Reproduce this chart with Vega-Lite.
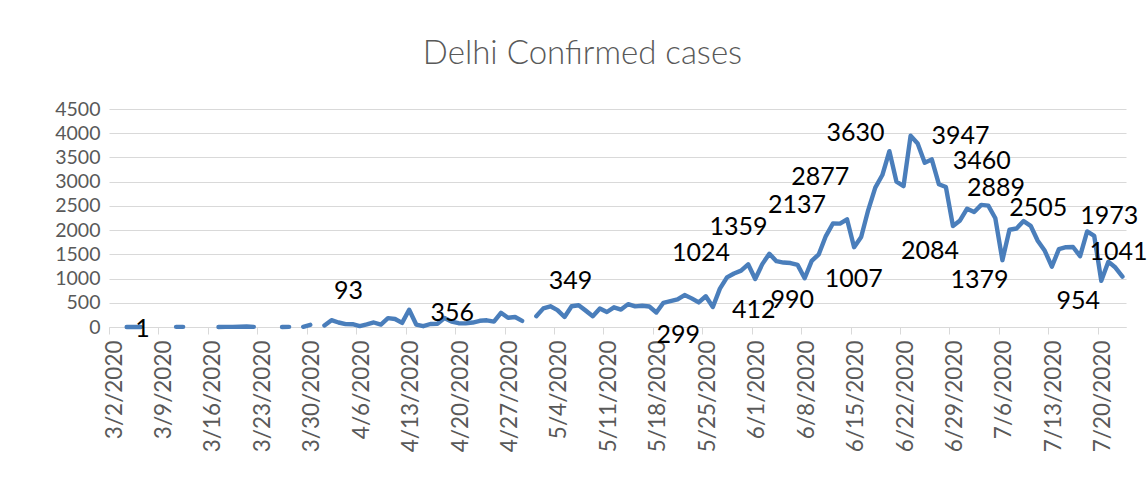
{
  "$schema": "https://vega.github.io/schema/vega-lite/v6.json",
  "width": 1017,
  "height": 218,
  "autosize": {"type": "none"},
  "padding": {"left": 109, "top": 109, "right": 21, "bottom": 152},
  "background": "white",
  "config": {"view": {"stroke": null}, "font": "Lato"},
  "title": {"text": "Delhi Confirmed cases", "font": "Lato", "fontSize": 33, "fontWeight": 300, "color": "#595959", "anchor": "middle", "dx": -35, "dy": 41, "offset": 43, "baseline": "alphabetic"},
  "datasets": {
    "cases": [
      {"date": "2020-03-02", "cases": null}, {"date": "2020-03-03", "cases": null}, {"date": "2020-03-04", "cases": 1}, {"date": "2020-03-05", "cases": 1}, {"date": "2020-03-06", "cases": 1}, {"date": "2020-03-07", "cases": null}, {"date": "2020-03-08", "cases": null}, {"date": "2020-03-09", "cases": null}, {"date": "2020-03-10", "cases": null}, {"date": "2020-03-11", "cases": 3}, {"date": "2020-03-12", "cases": 3}, {"date": "2020-03-13", "cases": null}, {"date": "2020-03-14", "cases": null}, {"date": "2020-03-15", "cases": null}, {"date": "2020-03-16", "cases": null}, {"date": "2020-03-17", "cases": 1}, {"date": "2020-03-18", "cases": 2}, {"date": "2020-03-19", "cases": 2}, {"date": "2020-03-20", "cases": 5}, {"date": "2020-03-21", "cases": 9}, {"date": "2020-03-22", "cases": 3}, {"date": "2020-03-23", "cases": null}, {"date": "2020-03-24", "cases": null}, {"date": "2020-03-25", "cases": null}, {"date": "2020-03-26", "cases": 1}, {"date": "2020-03-27", "cases": 3}, {"date": "2020-03-28", "cases": null}, {"date": "2020-03-29", "cases": 5}, {"date": "2020-03-30", "cases": 45}, {"date": "2020-03-31", "cases": null},
      {"date": "2020-04-01", "cases": 32}, {"date": "2020-04-02", "cases": 141}, {"date": "2020-04-03", "cases": 93}, {"date": "2020-04-04", "cases": 59}, {"date": "2020-04-05", "cases": 58}, {"date": "2020-04-06", "cases": 20}, {"date": "2020-04-07", "cases": 53}, {"date": "2020-04-08", "cases": 93}, {"date": "2020-04-09", "cases": 51}, {"date": "2020-04-10", "cases": 183}, {"date": "2020-04-11", "cases": 166}, {"date": "2020-04-12", "cases": 85}, {"date": "2020-04-13", "cases": 356}, {"date": "2020-04-14", "cases": 51}, {"date": "2020-04-15", "cases": 17}, {"date": "2020-04-16", "cases": 62}, {"date": "2020-04-17", "cases": 67}, {"date": "2020-04-18", "cases": 186}, {"date": "2020-04-19", "cases": 110}, {"date": "2020-04-20", "cases": 78}, {"date": "2020-04-21", "cases": 75}, {"date": "2020-04-22", "cases": 92}, {"date": "2020-04-23", "cases": 128}, {"date": "2020-04-24", "cases": 138}, {"date": "2020-04-25", "cases": 111}, {"date": "2020-04-26", "cases": 293}, {"date": "2020-04-27", "cases": 190}, {"date": "2020-04-28", "cases": 206}, {"date": "2020-04-29", "cases": 125}, {"date": "2020-04-30", "cases": null},
      {"date": "2020-05-01", "cases": 223}, {"date": "2020-05-02", "cases": 384}, {"date": "2020-05-03", "cases": 427}, {"date": "2020-05-04", "cases": 349}, {"date": "2020-05-05", "cases": 206}, {"date": "2020-05-06", "cases": 428}, {"date": "2020-05-07", "cases": 448}, {"date": "2020-05-08", "cases": 338}, {"date": "2020-05-09", "cases": 224}, {"date": "2020-05-10", "cases": 381}, {"date": "2020-05-11", "cases": 310}, {"date": "2020-05-12", "cases": 406}, {"date": "2020-05-13", "cases": 359}, {"date": "2020-05-14", "cases": 472}, {"date": "2020-05-15", "cases": 425}, {"date": "2020-05-16", "cases": 438}, {"date": "2020-05-17", "cases": 422}, {"date": "2020-05-18", "cases": 299}, {"date": "2020-05-19", "cases": 500}, {"date": "2020-05-20", "cases": 534}, {"date": "2020-05-21", "cases": 571}, {"date": "2020-05-22", "cases": 660}, {"date": "2020-05-23", "cases": 591}, {"date": "2020-05-24", "cases": 508}, {"date": "2020-05-25", "cases": 635}, {"date": "2020-05-26", "cases": 412}, {"date": "2020-05-27", "cases": 792}, {"date": "2020-05-28", "cases": 1024}, {"date": "2020-05-29", "cases": 1105}, {"date": "2020-05-30", "cases": 1163}, {"date": "2020-05-31", "cases": 1295},
      {"date": "2020-06-01", "cases": 990}, {"date": "2020-06-02", "cases": 1298}, {"date": "2020-06-03", "cases": 1513}, {"date": "2020-06-04", "cases": 1359}, {"date": "2020-06-05", "cases": 1330}, {"date": "2020-06-06", "cases": 1320}, {"date": "2020-06-07", "cases": 1282}, {"date": "2020-06-08", "cases": 1007}, {"date": "2020-06-09", "cases": 1366}, {"date": "2020-06-10", "cases": 1501}, {"date": "2020-06-11", "cases": 1877}, {"date": "2020-06-12", "cases": 2137}, {"date": "2020-06-13", "cases": 2134}, {"date": "2020-06-14", "cases": 2224}, {"date": "2020-06-15", "cases": 1647}, {"date": "2020-06-16", "cases": 1859}, {"date": "2020-06-17", "cases": 2414}, {"date": "2020-06-18", "cases": 2877}, {"date": "2020-06-19", "cases": 3137}, {"date": "2020-06-20", "cases": 3630}, {"date": "2020-06-21", "cases": 3000}, {"date": "2020-06-22", "cases": 2909}, {"date": "2020-06-23", "cases": 3947}, {"date": "2020-06-24", "cases": 3788}, {"date": "2020-06-25", "cases": 3390}, {"date": "2020-06-26", "cases": 3460}, {"date": "2020-06-27", "cases": 2948}, {"date": "2020-06-28", "cases": 2889}, {"date": "2020-06-29", "cases": 2084}, {"date": "2020-06-30", "cases": 2199},
      {"date": "2020-07-01", "cases": 2442}, {"date": "2020-07-02", "cases": 2373}, {"date": "2020-07-03", "cases": 2520}, {"date": "2020-07-04", "cases": 2505}, {"date": "2020-07-05", "cases": 2244}, {"date": "2020-07-06", "cases": 1379}, {"date": "2020-07-07", "cases": 2008}, {"date": "2020-07-08", "cases": 2033}, {"date": "2020-07-09", "cases": 2187}, {"date": "2020-07-10", "cases": 2089}, {"date": "2020-07-11", "cases": 1781}, {"date": "2020-07-12", "cases": 1573}, {"date": "2020-07-13", "cases": 1246}, {"date": "2020-07-14", "cases": 1606}, {"date": "2020-07-15", "cases": 1647}, {"date": "2020-07-16", "cases": 1652}, {"date": "2020-07-17", "cases": 1462}, {"date": "2020-07-18", "cases": 1973}, {"date": "2020-07-19", "cases": 1880}, {"date": "2020-07-20", "cases": 954}, {"date": "2020-07-21", "cases": 1349}, {"date": "2020-07-22", "cases": 1227}, {"date": "2020-07-23", "cases": 1041}
    ],
    "labels": [
      {"date": "2020-03-02", "cases": 1}, {"date": "2020-04-03", "cases": 93}, {"date": "2020-04-13", "cases": 356}, {"date": "2020-05-04", "cases": 349}, {"date": "2020-05-18", "cases": 299}, {"date": "2020-05-26", "cases": 412}, {"date": "2020-05-28", "cases": 1024}, {"date": "2020-06-01", "cases": 990}, {"date": "2020-06-04", "cases": 1359}, {"date": "2020-06-08", "cases": 1007}, {"date": "2020-06-12", "cases": 2137}, {"date": "2020-06-18", "cases": 2877}, {"date": "2020-06-20", "cases": 3630}, {"date": "2020-06-23", "cases": 3947}, {"date": "2020-06-26", "cases": 3460}, {"date": "2020-06-28", "cases": 2889}, {"date": "2020-06-29", "cases": 2084}, {"date": "2020-07-04", "cases": 2505}, {"date": "2020-07-06", "cases": 1379}, {"date": "2020-07-18", "cases": 1973}, {"date": "2020-07-20", "cases": 954}, {"date": "2020-07-23", "cases": 1041}
    ]
  },
  "encoding": {
    "x": {
      "field": "date", "type": "temporal",
      "scale": {"type": "utc", "domain": [{"year": 2020, "month": 3, "date": 1, "hours": 12, "utc": true}, {"year": 2020, "month": 7, "date": 23, "hours": 12, "utc": true}]},
      "axis": {
        "title": null, "grid": false,
        "values": [
          {"year": 2020, "month": 3, "date": 2, "utc": true}, {"year": 2020, "month": 3, "date": 9, "utc": true}, {"year": 2020, "month": 3, "date": 16, "utc": true}, {"year": 2020, "month": 3, "date": 23, "utc": true}, {"year": 2020, "month": 3, "date": 30, "utc": true}, {"year": 2020, "month": 4, "date": 6, "utc": true}, {"year": 2020, "month": 4, "date": 13, "utc": true}, {"year": 2020, "month": 4, "date": 20, "utc": true}, {"year": 2020, "month": 4, "date": 27, "utc": true}, {"year": 2020, "month": 5, "date": 4, "utc": true}, {"year": 2020, "month": 5, "date": 11, "utc": true}, {"year": 2020, "month": 5, "date": 18, "utc": true}, {"year": 2020, "month": 5, "date": 25, "utc": true}, {"year": 2020, "month": 6, "date": 1, "utc": true}, {"year": 2020, "month": 6, "date": 8, "utc": true}, {"year": 2020, "month": 6, "date": 15, "utc": true}, {"year": 2020, "month": 6, "date": 22, "utc": true}, {"year": 2020, "month": 6, "date": 29, "utc": true}, {"year": 2020, "month": 7, "date": 6, "utc": true}, {"year": 2020, "month": 7, "date": 13, "utc": true}, {"year": 2020, "month": 7, "date": 20, "utc": true}
        ],
        "labelExpr": "utcFormat(datum.value, '%-m/%-d/%Y')",
        "labelAngle": 270, "labelFontSize": 22.5, "labelColor": "#595959", "labelFont": "Lato",
        "labelPadding": 6, "labelOffset": 5, "tickOffset": -3.5,
        "tickSize": 7, "tickColor": "#d9d9d9", "domainColor": "#d9d9d9", "labelOverlap": false, "labelBound": false, "labelFlush": false
      }
    },
    "y": {
      "field": "cases", "type": "quantitative",
      "scale": {"domain": [0, 4500], "nice": false},
      "axis": {"title": null, "values": [0, 500, 1000, 1500, 2000, 2500, 3000, 3500, 4000, 4500], "format": "d", "grid": true, "gridColor": "#d9d9d9", "gridWidth": 1.2, "domain": false, "ticks": false, "labelFontSize": 19.5, "labelColor": "#595959", "labelFont": "Lato", "labelPadding": 9}
    }
  },
  "layer": [
    {"data": {"name": "cases"}, "mark": {"type": "line", "color": "#4A7EBB", "strokeWidth": 4.4, "strokeCap": "round", "strokeJoin": "round", "invalid": "break-paths-show-domains"}},
    {"data": {"name": "labels"}, "transform": [{"filter": {"field": "cases", "equal": 1}}], "mark": {"type": "text", "font": "Lato", "fontSize": 25, "color": "#000000", "dx": 30, "dy": 2}, "encoding": {"text": {"field": "cases", "type": "quantitative"}}},
    {"data": {"name": "labels"}, "transform": [{"filter": {"field": "cases", "equal": 93}}], "mark": {"type": "text", "font": "Lato", "fontSize": 25, "color": "#000000", "dx": 10, "dy": -31}, "encoding": {"text": {"field": "cases", "type": "quantitative"}}},
    {"data": {"name": "labels"}, "transform": [{"filter": {"field": "cases", "equal": 356}}], "mark": {"type": "text", "font": "Lato", "fontSize": 25, "color": "#000000", "dx": 43, "dy": 3}, "encoding": {"text": {"field": "cases", "type": "quantitative"}}},
    {"data": {"name": "labels"}, "transform": [{"filter": {"field": "cases", "equal": 349}}], "mark": {"type": "text", "font": "Lato", "fontSize": 25, "color": "#000000", "dx": 13, "dy": -29}, "encoding": {"text": {"field": "cases", "type": "quantitative"}}},
    {"data": {"name": "labels"}, "transform": [{"filter": {"field": "cases", "equal": 299}}], "mark": {"type": "text", "font": "Lato", "fontSize": 25, "color": "#000000", "dx": 22, "dy": 22}, "encoding": {"text": {"field": "cases", "type": "quantitative"}}},
    {"data": {"name": "labels"}, "transform": [{"filter": {"field": "cases", "equal": 412}}], "mark": {"type": "text", "font": "Lato", "fontSize": 25, "color": "#000000", "dx": 41, "dy": 3}, "encoding": {"text": {"field": "cases", "type": "quantitative"}}},
    {"data": {"name": "labels"}, "transform": [{"filter": {"field": "cases", "equal": 1024}}], "mark": {"type": "text", "font": "Lato", "fontSize": 25, "color": "#000000", "dx": -26, "dy": -24}, "encoding": {"text": {"field": "cases", "type": "quantitative"}}},
    {"data": {"name": "labels"}, "transform": [{"filter": {"field": "cases", "equal": 990}}], "mark": {"type": "text", "font": "Lato", "fontSize": 25, "color": "#000000", "dx": 37, "dy": 21}, "encoding": {"text": {"field": "cases", "type": "quantitative"}}},
    {"data": {"name": "labels"}, "transform": [{"filter": {"field": "cases", "equal": 1359}}], "mark": {"type": "text", "font": "Lato", "fontSize": 25, "color": "#000000", "dx": -38, "dy": -34}, "encoding": {"text": {"field": "cases", "type": "quantitative"}}},
    {"data": {"name": "labels"}, "transform": [{"filter": {"field": "cases", "equal": 1007}}], "mark": {"type": "text", "font": "Lato", "fontSize": 25, "color": "#000000", "dx": 49, "dy": 1}, "encoding": {"text": {"field": "cases", "type": "quantitative"}}},
    {"data": {"name": "labels"}, "transform": [{"filter": {"field": "cases", "equal": 2137}}], "mark": {"type": "text", "font": "Lato", "fontSize": 25, "color": "#000000", "dx": -36, "dy": -18}, "encoding": {"text": {"field": "cases", "type": "quantitative"}}},
    {"data": {"name": "labels"}, "transform": [{"filter": {"field": "cases", "equal": 2877}}], "mark": {"type": "text", "font": "Lato", "fontSize": 25, "color": "#000000", "dx": -55, "dy": -11}, "encoding": {"text": {"field": "cases", "type": "quantitative"}}},
    {"data": {"name": "labels"}, "transform": [{"filter": {"field": "cases", "equal": 3630}}], "mark": {"type": "text", "font": "Lato", "fontSize": 25, "color": "#000000", "dx": -34, "dy": -18}, "encoding": {"text": {"field": "cases", "type": "quantitative"}}},
    {"data": {"name": "labels"}, "transform": [{"filter": {"field": "cases", "equal": 3947}}], "mark": {"type": "text", "font": "Lato", "fontSize": 25, "color": "#000000", "dx": 50, "dy": 0}, "encoding": {"text": {"field": "cases", "type": "quantitative"}}},
    {"data": {"name": "labels"}, "transform": [{"filter": {"field": "cases", "equal": 3460}}], "mark": {"type": "text", "font": "Lato", "fontSize": 25, "color": "#000000", "dx": 50, "dy": 2}, "encoding": {"text": {"field": "cases", "type": "quantitative"}}},
    {"data": {"name": "labels"}, "transform": [{"filter": {"field": "cases", "equal": 2889}}], "mark": {"type": "text", "font": "Lato", "fontSize": 25, "color": "#000000", "dx": 50, "dy": 1}, "encoding": {"text": {"field": "cases", "type": "quantitative"}}},
    {"data": {"name": "labels"}, "transform": [{"filter": {"field": "cases", "equal": 2084}}], "mark": {"type": "text", "font": "Lato", "fontSize": 25, "color": "#000000", "dx": -23, "dy": 25}, "encoding": {"text": {"field": "cases", "type": "quantitative"}}},
    {"data": {"name": "labels"}, "transform": [{"filter": {"field": "cases", "equal": 2505}}], "mark": {"type": "text", "font": "Lato", "fontSize": 25, "color": "#000000", "dx": 50, "dy": 2}, "encoding": {"text": {"field": "cases", "type": "quantitative"}}},
    {"data": {"name": "labels"}, "transform": [{"filter": {"field": "cases", "equal": 1379}}], "mark": {"type": "text", "font": "Lato", "fontSize": 25, "color": "#000000", "dx": -23, "dy": 20}, "encoding": {"text": {"field": "cases", "type": "quantitative"}}},
    {"data": {"name": "labels"}, "transform": [{"filter": {"field": "cases", "equal": 1973}}], "mark": {"type": "text", "font": "Lato", "fontSize": 25, "color": "#000000", "dx": 22, "dy": -15}, "encoding": {"text": {"field": "cases", "type": "quantitative"}}},
    {"data": {"name": "labels"}, "transform": [{"filter": {"field": "cases", "equal": 954}}], "mark": {"type": "text", "font": "Lato", "fontSize": 25, "color": "#000000", "dx": -23, "dy": 20}, "encoding": {"text": {"field": "cases", "type": "quantitative"}}},
    {"data": {"name": "labels"}, "transform": [{"filter": {"field": "cases", "equal": 1041}}], "mark": {"type": "text", "font": "Lato", "fontSize": 25, "color": "#000000", "dx": -4, "dy": -25}, "encoding": {"text": {"field": "cases", "type": "quantitative"}}}
  ]
}
